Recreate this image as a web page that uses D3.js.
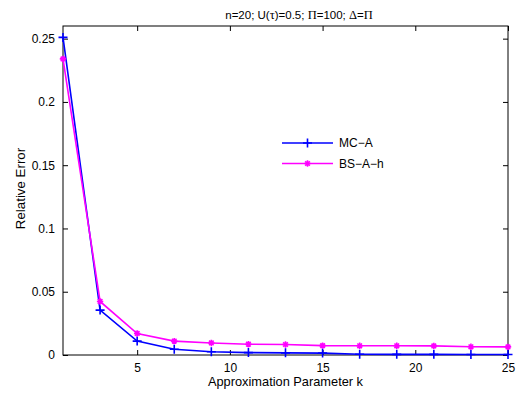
<!DOCTYPE html>
<html>
<head>
<meta charset="utf-8">
<script src="https://cdn.jsdelivr.net/npm/d3@7"></script>
<style>
  body { margin: 0; background: #fff; }
  svg text { font-family: "Liberation Sans", Arial, sans-serif; fill: #000; }
</style>
</head>
<body>
<svg id="chart"></svg>
<script>
// data
const kValues = [1, 3, 5, 7, 9, 11, 13, 15, 17, 19, 21, 23, 25];
const mcA = [0.251, 0.0355, 0.011, 0.0045, 0.0026, 0.0019, 0.0017, 0.0015, 0.0006, 0.0005, 0.0005, 0.0004, 0.0004];
const bsAh = [0.234, 0.0423, 0.017, 0.011, 0.0095, 0.0085, 0.0083, 0.0074, 0.0073, 0.0073, 0.0072, 0.0065, 0.0064];
const xTicks = [5, 10, 15, 20, 25];
const yTicks = [0, 0.05, 0.1, 0.15, 0.2, 0.25];
const seriesNames = ["MC-A", "BS-A-h"];
// title pieces: [text, serif?] (greek letters are set in a serif symbol font)
const titleParts = [
    ["n=20; U(", false], ["\u03C4", true], [")=0.5; ", false],
    ["\u03A0", true], ["=100; ", false], ["\u0394", true], ["=", false], ["\u03A0", true]
];

const width = 519, height = 396;
const margin = {top: 26, right: 11, bottom: 41, left: 63};

const svg = d3.select("#chart").attr("width", width).attr("height", height);

const x = d3.scaleLinear().domain([1, 25]).range([margin.left, width - margin.right]);
const y = d3.scaleLinear().domain([0, 0.26]).range([height - margin.bottom, margin.top]);

const tickLen = 5;

// axes: ticks pointing inward, mirrored on top/right
svg.append("g")
    .attr("transform", `translate(0,${height - margin.bottom})`)
    .call(d3.axisBottom(x).tickValues(xTicks).tickSizeInner(-tickLen).tickSizeOuter(0).tickPadding(8).tickFormat(d3.format("d")))
    .call(g => g.select(".domain").remove())
    .call(g => g.selectAll("text").attr("font-size", 12));

svg.append("g")
    .attr("transform", `translate(0,${margin.top})`)
    .call(d3.axisTop(x).tickValues(xTicks).tickSizeInner(-tickLen).tickSizeOuter(0).tickFormat(""))
    .call(g => g.select(".domain").remove());

svg.append("g")
    .attr("transform", `translate(${margin.left},0)`)
    .call(d3.axisLeft(y).tickValues(yTicks).tickSizeInner(-tickLen).tickSizeOuter(0).tickPadding(8).tickFormat(d => d === 0 ? "0" : String(d)))
    .call(g => g.select(".domain").remove())
    .call(g => g.selectAll("text").attr("font-size", 12));

svg.append("g")
    .attr("transform", `translate(${width - margin.right},0)`)
    .call(d3.axisRight(y).tickValues(yTicks).tickSizeInner(-tickLen).tickSizeOuter(0).tickFormat(""))
    .call(g => g.select(".domain").remove());

svg.append("rect")
    .attr("x", margin.left).attr("y", margin.top)
    .attr("width", width - margin.left - margin.right)
    .attr("height", height - margin.top - margin.bottom)
    .attr("fill", "none").attr("stroke", "#000").attr("stroke-width", 1);

// lines
const line = d3.line().x((d, i) => x(kValues[i])).y(d => y(d));

const plusPath = s => `M${-s},0H${s}M0,${-s}V${s}`;
const starPath = s => {
    const a = s * 0.72;
    return `M${-s},0H${s}M0,${-s}V${s}M${-a},${-a}L${a},${a}M${-a},${a}L${a},${-a}`;
};

const series = [
    {name: seriesNames[0], values: mcA, color: "#0000ff", marker: plusPath(4.5)},
    {name: seriesNames[1], values: bsAh, color: "#ff00ff", marker: starPath(3.2)}
];

series.forEach(s => {
    svg.append("path")
        .datum(s.values)
        .attr("d", line)
        .attr("fill", "none")
        .attr("stroke", s.color)
        .attr("stroke-width", 1.6);
    svg.append("g").selectAll("path")
        .data(s.values)
        .enter()
        .append("path")
        .attr("transform", (d, i) => `translate(${x(kValues[i])},${y(d)})`)
        .attr("d", s.marker)
        .attr("fill", "none")
        .attr("stroke", s.color)
        .attr("stroke-width", 1.6);
});

// legend
const legend = svg.append("g").attr("transform", "translate(282,143)");
series.forEach((s, i) => {
    const g = legend.append("g").attr("transform", `translate(0,${i * 20.5})`);
    g.append("line").attr("x1", 0).attr("x2", 51).attr("y1", 0).attr("y2", 0)
        .attr("stroke", s.color).attr("stroke-width", 1.6);
    g.append("path").attr("transform", "translate(25.5,0)").attr("d", s.marker)
        .attr("fill", "none").attr("stroke", s.color).attr("stroke-width", 1.6);
    g.append("text").attr("x", 57).attr("y", 0).attr("dy", "0.35em")
        .attr("font-size", 12).text(s.name.replace(/-/g, "\u2212"));
});

// labels
const title = svg.append("text")
    .attr("x", 299)
    .attr("y", 19)
    .attr("text-anchor", "middle")
    .attr("font-size", 11.5);
titleParts.forEach(([t, serif]) => {
    const sp = title.append("tspan").text(t);
    if (serif) sp.style("font-family", "'Liberation Serif', 'Times New Roman', serif").attr("font-size", 12.5);
});

svg.append("text")
    .attr("x", (margin.left + width - margin.right) / 2)
    .attr("y", 386)
    .attr("text-anchor", "middle")
    .attr("font-size", 12.8)
    .text("Approximation Parameter k");

svg.append("text")
    .attr("transform", `translate(25,188.5) rotate(-90)`)
    .attr("text-anchor", "middle")
    .attr("font-size", 13.3)
    .text("Relative Error");
</script>
</body>
</html>
